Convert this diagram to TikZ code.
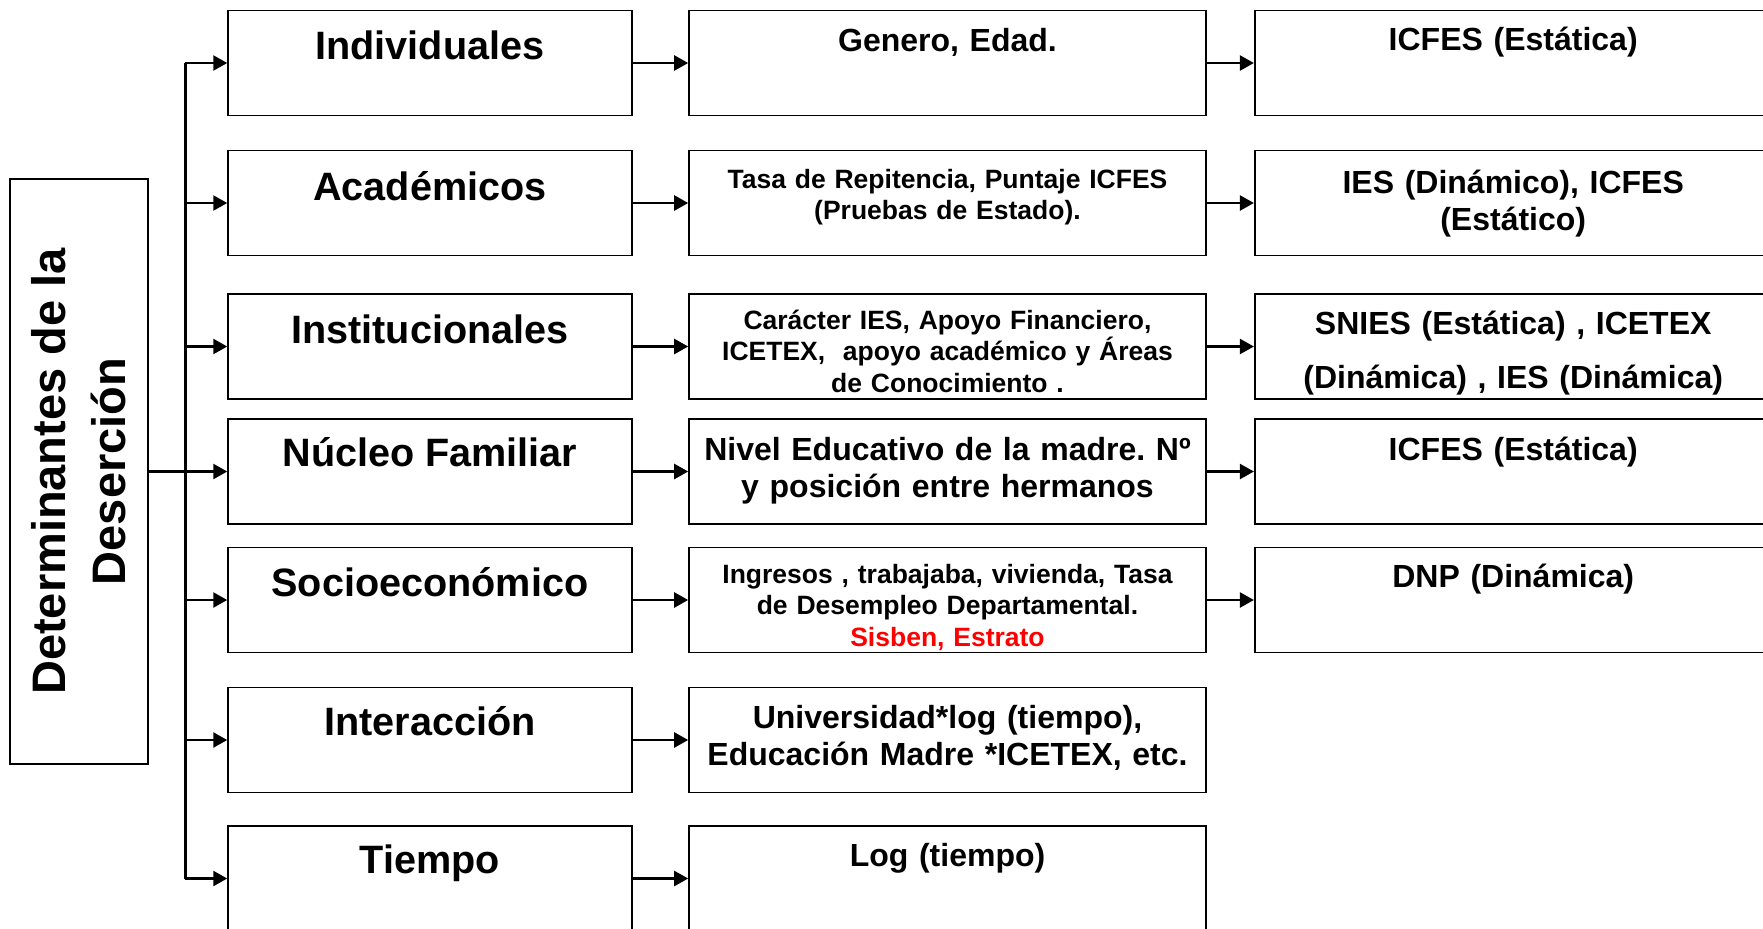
\documentclass[tikz,border=0pt]{standalone}
\usepackage{fontspec}
\setmainfont{Liberation Sans}
\usetikzlibrary{arrows.meta}
\definecolor{redtxt}{RGB}{255,0,0}
\frenchspacing
\begin{document}
\begin{tikzpicture}[x=0.5pt,y=-0.5pt,
  box/.style={draw=black, line width=0.8pt, minimum height=52.5pt, inner sep=0pt},
  c1box/.style={box, minimum width=201.85pt},
  cwbox/.style={box, minimum width=258.5pt},
  lbox/.style={box, minimum width=69pt, minimum height=292.75pt},
  conn/.style={draw=black, line width=1.2pt},
  arr/.style={conn, -{Triangle[length=7pt,width=7.5pt]}},
  tone/.style={anchor=base, inner sep=0pt, font=\fontsize{19.8}{24}\selectfont\bfseries},
  tsmall/.style={anchor=base, inner sep=0pt, text width=255pt, align=center, font=\fontsize{13.25}{15.8}\selectfont\bfseries},
  tlarge/.style={anchor=base, inner sep=0pt, text width=255pt, align=center, font=\fontsize{16}{18.6}\selectfont\bfseries},
  tthree/.style={anchor=base, inner sep=0pt, text width=255pt, align=center, font=\fontsize{16}{18.4}\selectfont\bfseries},
  tthreew/.style={anchor=base, inner sep=0pt, text width=255pt, align=center, font=\fontsize{16}{27}\selectfont\bfseries},
  tleft/.style={rotate=90, inner sep=0pt, align=center, font=\fontsize{23.5}{30}\selectfont\bfseries}
]
\useasboundingbox (0,0) rectangle (1763,928);
\clip (0,0) rectangle (1763,928);
\fill[white] (0,0) rectangle (1763,928);

% left box
\node[lbox] (L) at (78.8,471.5) {};
\node[tleft] (Lt) at (78.8,471.5) {Determinantes de la\\Deserción};

% column 1
\node[c1box] (a1) at (429.9,63) {};
\node[c1box] (a2) at (429.9,203) {};
\node[c1box] (a3) at (429.9,346.5) {};
\node[c1box] (a4) at (429.9,471.5) {};
\node[c1box] (a5) at (429.9,600) {};
\node[c1box] (a6) at (429.9,740) {};
\node[c1box] (a7) at (429.9,878.5) {};
\node[tone] (a1t) at (429.9,59.3) {Individuales};
\node[tone] (a2t) at (429.9,200) {Académicos};
\node[tone] (a3t) at (429.9,343.3) {Institucionales};
\node[tone] (a4t) at (429.9,466.7) {Núcleo Familiar};
\node[tone] (a5t) at (429.9,596) {Socioeconómico};
\node[tone] (a6t) at (429.9,735.7) {Interacción};
\node[tone] (a7t) at (429.9,873.3) {Tiempo};

% column 2
\node[cwbox] (b1) at (947.5,63) {};
\node[cwbox] (b2) at (947.5,203) {};
\node[cwbox] (b3) at (947.5,346.5) {};
\node[cwbox] (b4) at (947.5,471.5) {};
\node[cwbox] (b5) at (947.5,600) {};
\node[cwbox] (b6) at (947.5,740) {};
\node[cwbox] (b7) at (947.5,878.5) {};
\node[tlarge] (b1t) at (947.5,51.7) {Genero, Edad.};
\node[tsmall] (b2t) at (947.5,188.3) {Tasa de Repitencia, Puntaje ICFES\\(Pruebas de Estado).};
\node[tsmall] (b3t) at (947.5,329.3) {Carácter IES, Apoyo Financiero,\\ICETEX,\ \ apoyo académico y Áreas\\de Conocimiento .};
\node[tlarge] (b4t) at (947.5,460) {Nivel Educativo de la madre. Nº\\y posición entre hermanos};
\node[tsmall] (b5t) at (947.5,583.3) {Ingresos , trabajaba, vivienda, Tasa\\de Desempleo Departamental.\\\textcolor{redtxt}{Sisben, Estrato}};
\node[tlarge] (b6t) at (947.5,728.3) {Universidad*log (tiempo),\\Educación Madre *ICETEX, etc.};
\node[tlarge] (b7t) at (947.5,866) {Log (tiempo)};

% column 3
\node[cwbox] (c1) at (1513.2,63) {};
\node[cwbox] (c2) at (1513.2,203) {};
\node[cwbox] (c3) at (1513.2,346.5) {};
\node[cwbox] (c4) at (1513.2,471.5) {};
\node[cwbox] (c5) at (1513.2,600) {};
\node[tthree] (c1t) at (1513.2,50.7) {ICFES (Estática)};
\node[tthree] (c2t) at (1513.2,193.3) {IES (Dinámico), ICFES\\(Estático)};
\node[tthreew] (c3t) at (1513.2,334) {SNIES (Estática) , ICETEX\\(Dinámica) , IES (Dinámica)};
\node[tthree] (c4t) at (1513.2,460) {ICFES (Estática)};
\node[tthree] (c5t) at (1513.2,587.3) {DNP (Dinámica)};

% trunk
\coordinate (j1) at (185.3,63);
\coordinate (j2) at (185.3,203);
\coordinate (j3) at (185.3,346.5);
\coordinate (j5) at (185.3,600);
\coordinate (j6) at (185.3,740);
\coordinate (j7) at (185.3,878.5);
\draw[conn] (j1) -- (j7);
\draw[arr] (j1) -- (a1.west);
\draw[arr] (j2) -- (a2.west);
\draw[arr] (j3) -- (a3.west);
\draw[arr] (L.east) -- (a4.west);
\draw[arr] (j5) -- (a5.west);
\draw[arr] (j6) -- (a6.west);
\draw[arr] (j7) -- (a7.west);

% col1 -> col2
\draw[arr] (a1.east) -- (b1.west);
\draw[arr] (a2.east) -- (b2.west);
\draw[arr] (a3.east) -- (b3.west);
\draw[arr] (a4.east) -- (b4.west);
\draw[arr] (a5.east) -- (b5.west);
\draw[arr] (a6.east) -- (b6.west);
\draw[arr] (a7.east) -- (b7.west);

% col2 -> col3
\draw[arr] (b1.east) -- (c1.west);
\draw[arr] (b2.east) -- (c2.west);
\draw[arr] (b3.east) -- (c3.west);
\draw[arr] (b4.east) -- (c4.west);
\draw[arr] (b5.east) -- (c5.west);
\end{tikzpicture}
\end{document}
